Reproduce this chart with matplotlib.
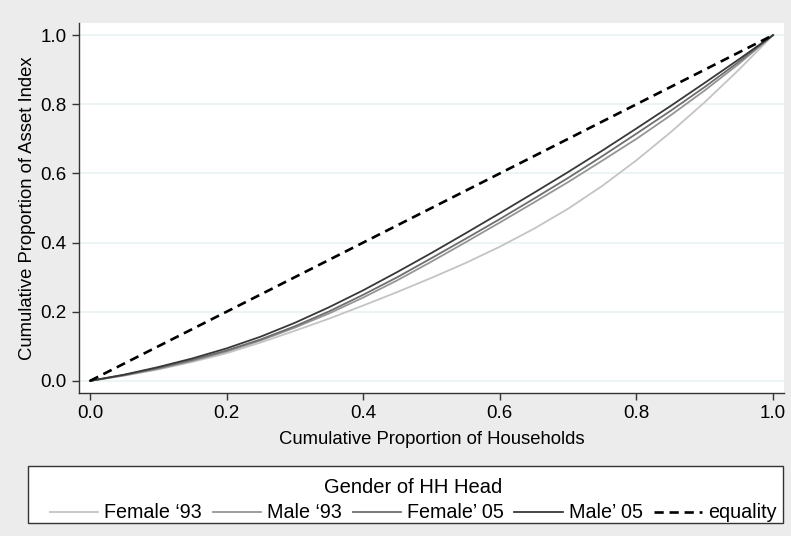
import matplotlib.pyplot as plt
from matplotlib.patches import Rectangle

plt.rcParams['font.family'] = ['Liberation Sans', 'DejaVu Sans']

# Lorenz curves of the asset index by gender of household head
share_hh = [0.0, 0.05, 0.1, 0.15, 0.2, 0.25, 0.3, 0.35, 0.4, 0.45, 0.5,
            0.55, 0.6, 0.65, 0.7, 0.75, 0.8, 0.85, 0.9, 0.95, 1.0]
female_93 = [0.0, 0.015, 0.033, 0.055, 0.080, 0.111, 0.145, 0.180, 0.218, 0.257, 0.298,
             0.341, 0.388, 0.440, 0.498, 0.564, 0.638, 0.719, 0.806, 0.900, 1.0]
male_93 = [0.0, 0.016, 0.035, 0.058, 0.085, 0.117, 0.154, 0.195, 0.241, 0.291, 0.345,
           0.401, 0.458, 0.516, 0.575, 0.637, 0.700, 0.768, 0.840, 0.917, 1.0]
female_05 = [0.0, 0.017, 0.037, 0.061, 0.088, 0.120, 0.158, 0.201, 0.249, 0.300, 0.355,
             0.411, 0.468, 0.527, 0.587, 0.650, 0.715, 0.781, 0.850, 0.923, 1.0]
male_05 = [0.0, 0.018, 0.040, 0.065, 0.094, 0.128, 0.168, 0.213, 0.262, 0.315, 0.370,
           0.427, 0.485, 0.544, 0.604, 0.666, 0.730, 0.795, 0.862, 0.930, 1.0]
equality = [0.0, 1.0]

labels = ["Female \u201893", "Male \u201893", "Female\u2019 05", "Male\u2019 05", "equality"]
ticks = [0.0, 0.2, 0.4, 0.6, 0.8, 1.0]
tick_labels = ["0.0", "0.2", "0.4", "0.6", "0.8", "1.0"]

bg = '#ebeceb'
fig = plt.figure(figsize=(7.91, 5.36), dpi=100, facecolor=bg)
ax = fig.add_axes([79/791, 1 - 393/536, 705/791, 370/536])
ax.set_facecolor('white')

ax.plot(share_hh, female_93, color='#c4c4c4', lw=1.3, label=labels[0])
ax.plot(share_hh, male_93, color='#959595', lw=1.3, label=labels[1])
ax.plot(share_hh, female_05, color='#6e6e6e', lw=1.3, label=labels[2])
ax.plot(share_hh, male_05, color='#383838', lw=1.3, label=labels[3])
ax.plot(equality, equality, color='black', lw=1.9, ls=(0, (3.5, 2.2)), label=labels[4])

ax.set_xlim(-0.016, 1.016)
ax.set_ylim(-0.035, 1.035)
ax.set_xticks(ticks)
ax.set_xticklabels(tick_labels)
ax.set_yticks(ticks)
ax.set_yticklabels(tick_labels)
ax.tick_params(labelsize=13.5, length=5, width=1, color='#333333', pad=4)
ax.grid(axis='y', color='#eaf2f3', lw=1.2)
ax.set_axisbelow(True)
for side in ['top', 'right']:
    ax.spines[side].set_visible(False)
for side in ['left', 'bottom']:
    ax.spines[side].set_color('#333333')
    ax.spines[side].set_linewidth(1)

ax.set_xlabel("Cumulative Proportion of Households", fontsize=13.3, labelpad=6)
ax.set_ylabel("Cumulative Proportion of Asset Index", fontsize=13.3, labelpad=3)

# legend box across the bottom of the figure
fig.patches.append(Rectangle((28/791, 1 - 523/536), 755/791, 57/536,
                             transform=fig.transFigure, facecolor='white',
                             edgecolor='#333333', lw=1))
handles, lbls = ax.get_legend_handles_labels()
leg = fig.legend(handles, lbls, loc='center', bbox_to_anchor=(413/791, 1 - 500/536),
                 ncol=5, frameon=False, fontsize=14.2, title="Gender of HH Head",
                 title_fontsize=14.5, handlelength=2.45, handletextpad=0.3,
                 columnspacing=0.55, borderpad=0.2, labelspacing=0.35)

fig.savefig('out.png', dpi=100, facecolor=bg)
